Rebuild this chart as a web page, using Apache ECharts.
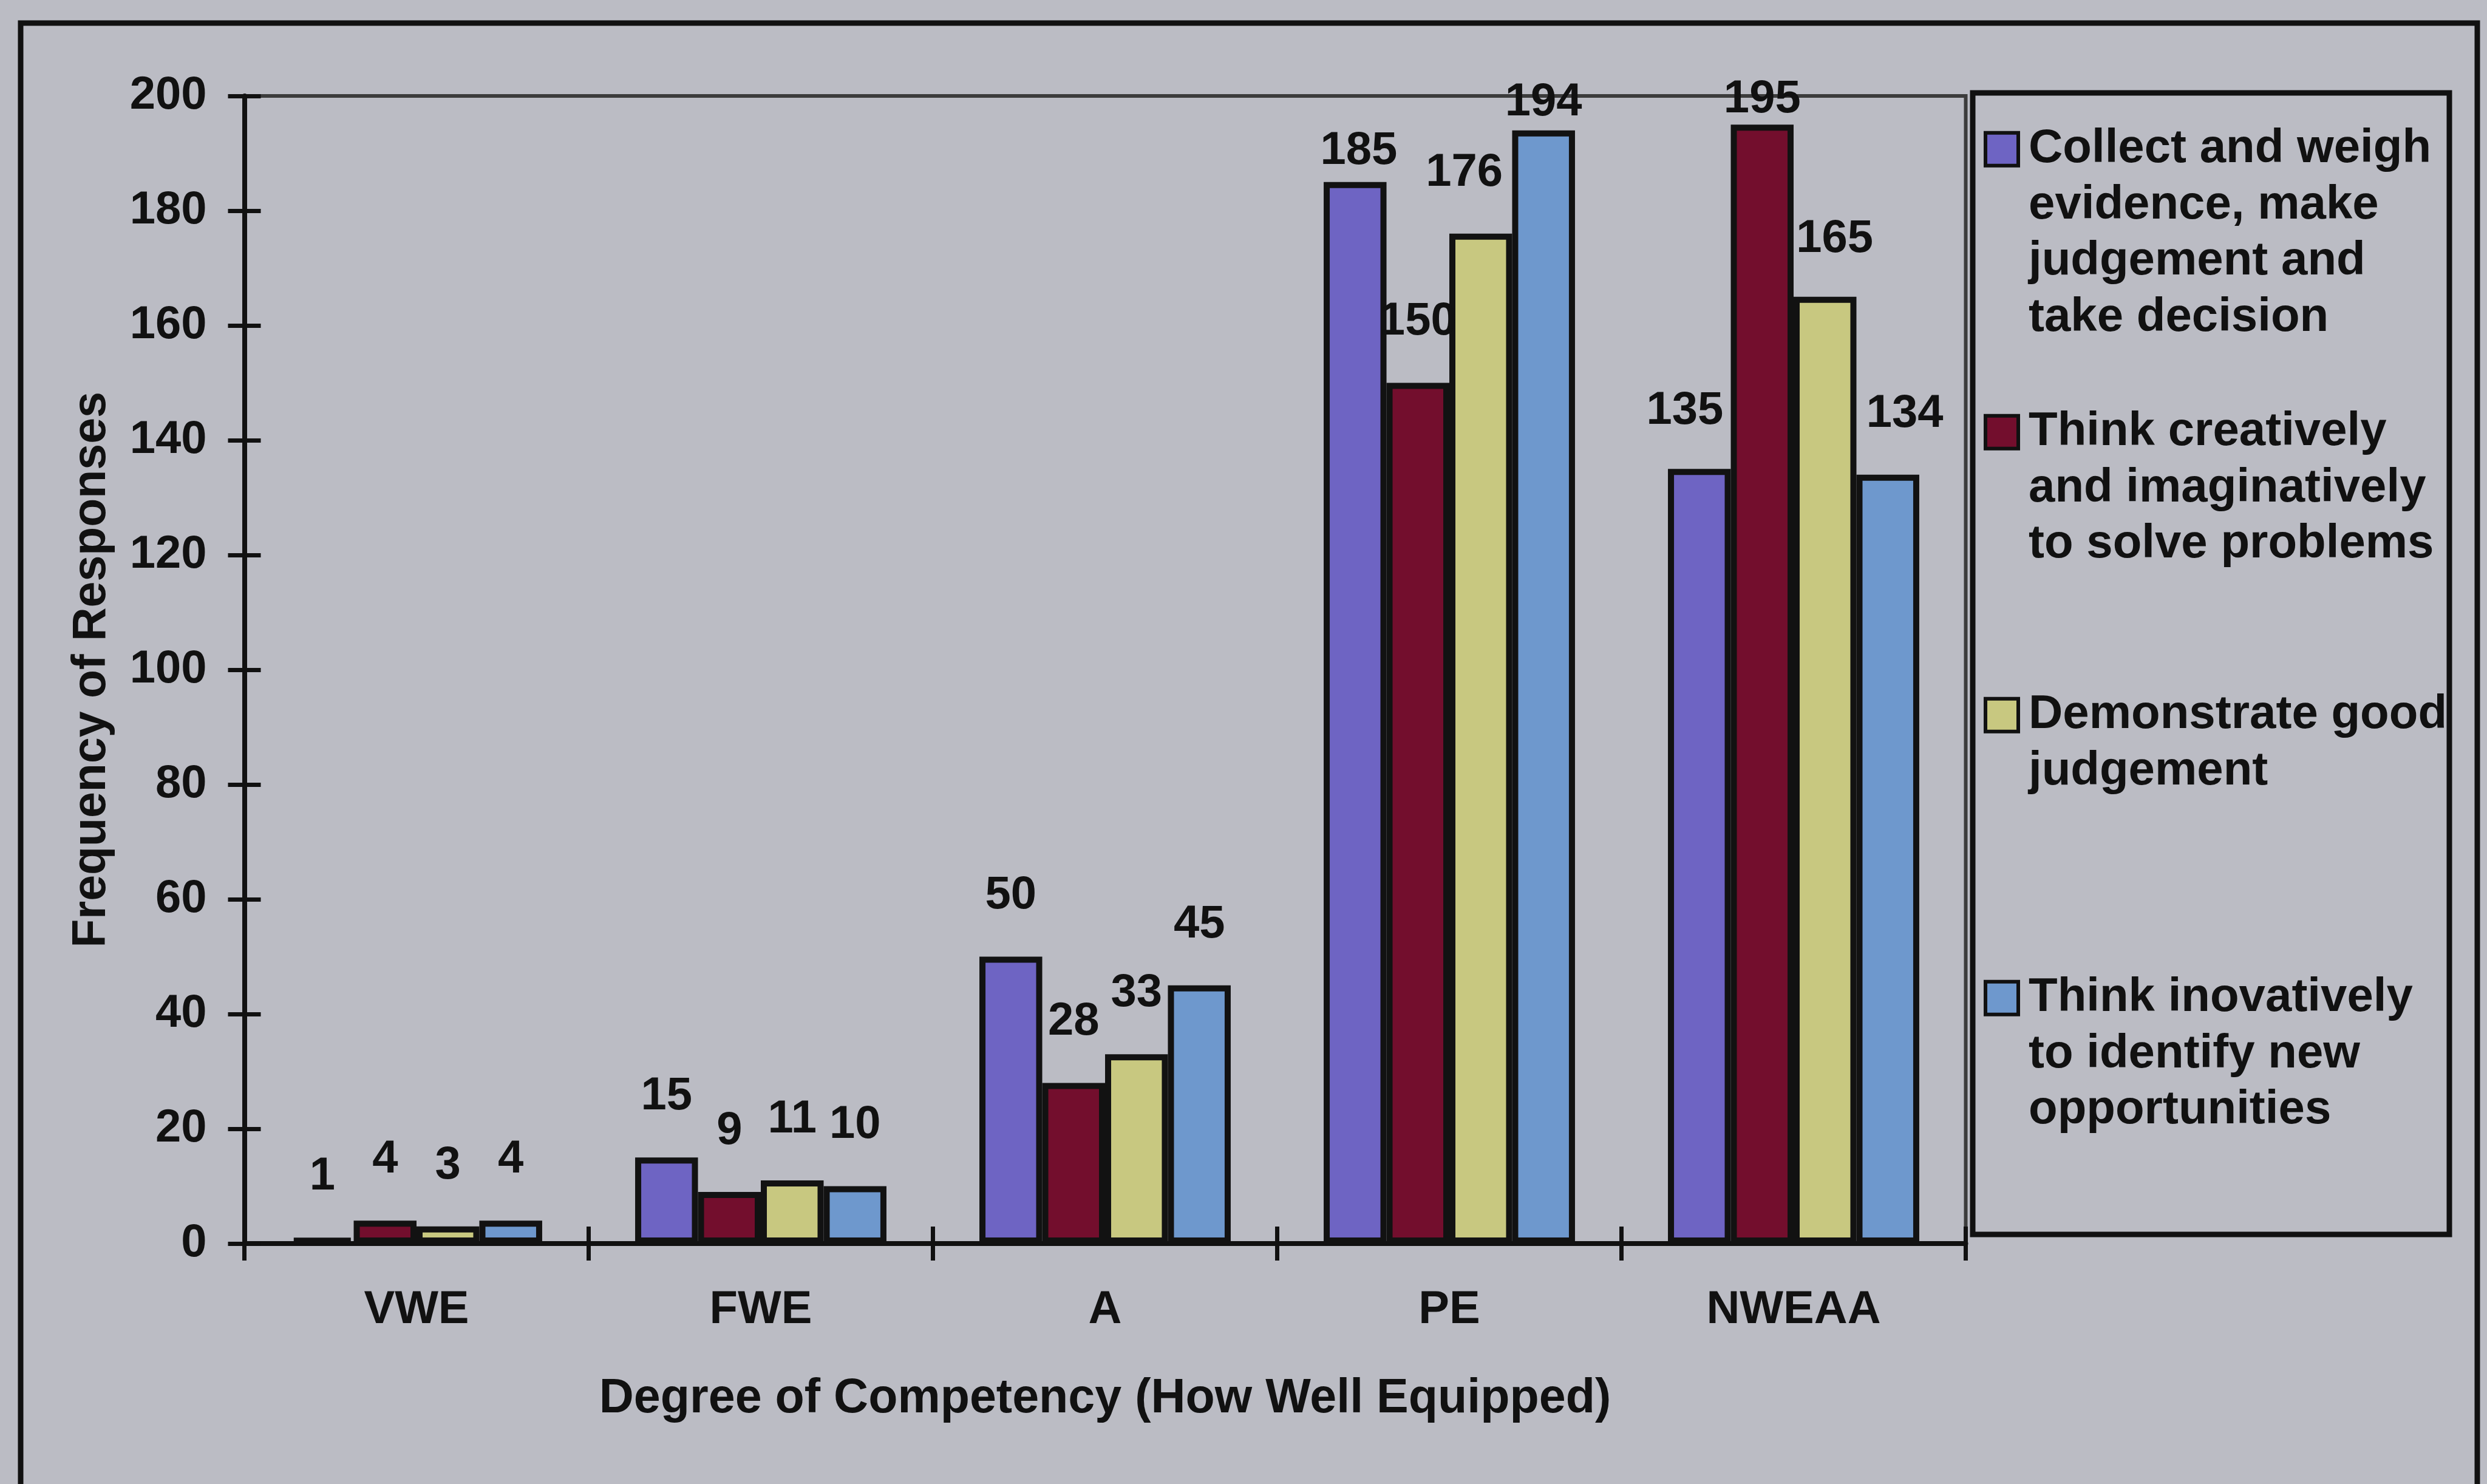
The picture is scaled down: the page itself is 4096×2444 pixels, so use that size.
<!DOCTYPE html>
<html>
<head>
<meta charset="utf-8">
<title>Degree of Competency</title>
<script src="https://cdn.jsdelivr.net/npm/echarts@6/dist/echarts.min.js"></script>
<style>
  html, body { margin: 0; padding: 0; background: #bbbcc4; }
  #chart { width: 4096px; height: 2444px; }
</style>
</head>
<body>
<div id="chart"></div>
<script>
// Categories on the x axis
const categories = ['VWE', 'FWE', 'A', 'PE', 'NWEAA'];

// Frequency of responses per competency
const collectWeigh = [1, 15, 50, 185, 135];
const thinkCreatively = [4, 9, 28, 150, 195];
const demonstrateJudgement = [3, 11, 33, 176, 165];
const thinkInnovatively = [4, 10, 45, 194, 134];

const seriesNames = [
  'Collect and weigh\nevidence, make\njudgement and\ntake decision',
  'Think creatively\nand imaginatively\nto solve problems',
  'Demonstrate good\njudgement',
  'Think inovatively\nto identify new\nopportunities'
];

// Y axis scale
const yMin = 0;
const yMax = 200;
const yStep = 20;

// ---- styling ----
const FONT = '"Liberation Sans", Arial, Helvetica, sans-serif';
const INK = '#111111';
const colors = ['#6e64c3', '#730e2d', '#c8c880', '#6e98cd'];

// hand-placed value labels: [dx, dy] keyed by "series-category"
const labelNudges = {
  '0-3': [6, 49],
  '3-3': [0, 54],
  '1-4': [0, 59],
  '2-3': [-27, 0],
  '2-4': [16, 5],
  '0-4': [-24, 5],
  '3-4': [28, 0]
};

const allValues = [collectWeigh, thinkCreatively, demonstrateJudgement, thinkInnovatively];

const boldText = { fontFamily: FONT, fontWeight: 'bold', color: INK, fontSize: 76, lineHeight: 76 };
const titleText = Object.assign({}, boldText, { fontSize: 79, lineHeight: 79 });

const series = allValues.map((values, s) => ({
  name: seriesNames[s],
  type: 'bar',
  barGap: '0%',
  barCategoryGap: '27%',
  emphasis: { disabled: true },
  itemStyle: { color: colors[s], borderColor: '#121212', borderWidth: 10 },
  label: Object.assign({ show: true, position: 'top', distance: 62 }, boldText),
  data: values.map((v, c) => {
    const n = labelNudges[s + '-' + c];
    return n ? { value: v, label: { offset: n } } : v;
  })
}));

const tickStyle = { color: INK, width: 7 };

const option = {
  backgroundColor: '#bbbcc4',
  animation: false,
  textStyle: { fontFamily: FONT },
  grid: {
    left: 402.5, top: 158, width: 2835, height: 1890,
    show: true, borderColor: '#3c3c3c', borderWidth: 6,
    backgroundColor: 'transparent',
    outerBoundsMode: 'none'
  },
  xAxis: [
    {
      type: 'category', data: categories, position: 'bottom',
      axisLine: { show: true, lineStyle: { color: INK, width: 8 } },
      axisTick: { show: true, length: 28, lineStyle: tickStyle },
      axisLabel: Object.assign({ margin: 72 }, boldText),
      splitLine: { show: false },
      name: 'Degree of Competency (How Well Equipped)',
      nameLocation: 'middle', nameGap: 217,
      nameTextStyle: titleText
    },
    {
      type: 'category', data: categories, position: 'bottom',
      axisLine: { show: false },
      axisTick: { show: true, inside: true, length: 28, lineStyle: tickStyle },
      axisLabel: { show: false },
      splitLine: { show: false }
    }
  ],
  yAxis: [
    {
      type: 'value', min: yMin, max: yMax, interval: yStep, position: 'left',
      axisLine: { show: true, lineStyle: { color: INK, width: 8 } },
      axisTick: { show: true, length: 27, lineStyle: tickStyle },
      axisLabel: Object.assign({ margin: 62 }, boldText),
      splitLine: { show: false },
      name: 'Frequency of Responses',
      nameLocation: 'middle', nameGap: 212,
      nameTextStyle: Object.assign({}, boldText, { fontSize: 77, lineHeight: 77 })
    },
    {
      type: 'value', min: yMin, max: yMax, interval: yStep, position: 'left',
      axisLine: { show: false },
      axisTick: { show: true, inside: true, length: 27, lineStyle: tickStyle },
      axisLabel: { show: false },
      splitLine: { show: false }
    }
  ],
  legend: {
    orient: 'vertical',
    left: 3267, top: 196.5,
    padding: 0,
    itemWidth: 54, itemHeight: 370, itemGap: 90,
    // square marker sitting beside the first text line of each entry
    icon: 'path://M0,0M0,19.25h54v54h-54zM54,370',
    selectedMode: false,
    itemStyle: { borderColor: INK, borderWidth: 6 },
    formatter: (name) => name + '\n'.repeat(4 - name.split('\n').length),
    textStyle: {
      fontFamily: FONT, fontWeight: 'bold', color: INK,
      fontSize: 78, lineHeight: 92.5, padding: [0, 0, 0, 12]
    },
    data: seriesNames
  },
  graphic: [
    {
      type: 'rect', z: 10, silent: true,
      shape: { x: 34, y: 38, width: 4046, height: 2500 },
      style: { fill: 'none', stroke: INK, lineWidth: 9 }
    },
    {
      type: 'rect', z: 10, silent: true,
      shape: { x: 3249, y: 153, width: 785, height: 1880 },
      style: { fill: 'none', stroke: INK, lineWidth: 9 }
    }
  ],
  series: series
};

const chart = echarts.init(document.getElementById('chart'), null, { renderer: 'canvas' });
chart.setOption(option);
</script>
</body>
</html>
